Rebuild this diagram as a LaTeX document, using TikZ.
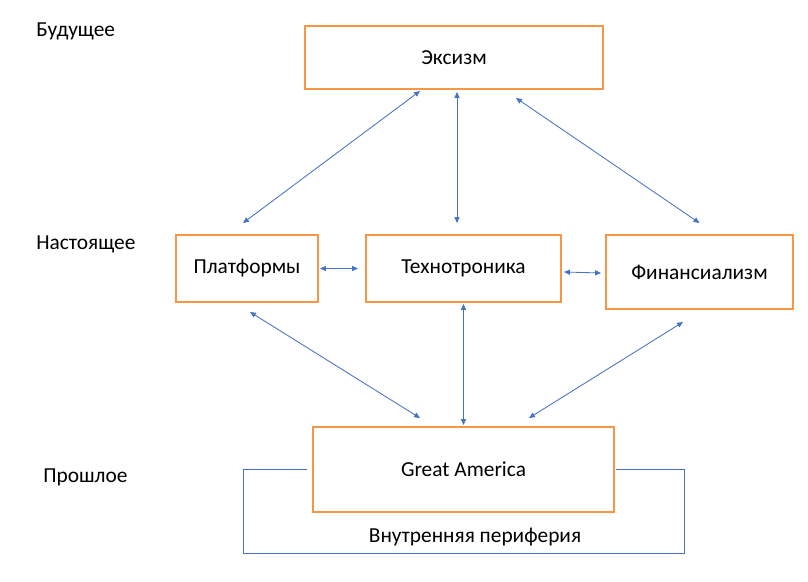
\documentclass[tikz,border=0pt]{standalone}
\usepackage{fontspec}
\setmainfont{Carlito}
\usetikzlibrary{arrows.meta,calc}
\definecolor{boxorange}{HTML}{F79646}
\definecolor{linkblue}{HTML}{4472C4}

\begin{document}
\begin{tikzpicture}[
  x=0.025cm, y=-0.025cm,
  every node/.style={font=\fontsize{15.2}{18}\selectfont},
  era/.style={draw=boxorange, line width=1.4pt, align=center, inner sep=0pt},
  lvl/.style={anchor=west, inner sep=0pt},
  link/.style={{Triangle[length=4.2pt, width=3.6pt]}-{Triangle[length=4.2pt, width=3.6pt]}, linkblue, line width=0.6pt},
  rim/.style={linkblue, line width=0.7pt}
]
\useasboundingbox (0,0) rectangle (808,582);

% time levels
\node[lvl] (fut) at (36,31) {Будущее};
\node[lvl] (now) at (36,244) {Настоящее};
\node[lvl] (past) at (43,477) {Прошлое};

% boxes
\node[era, minimum width=7.45cm, minimum height=1.575cm] (eks) at (454,57.5) {Эксизм};
\node[era, minimum width=3.55cm, minimum height=1.675cm] (plat) at (247,268.5) {Платформы};
\node[era, minimum width=4.875cm, minimum height=1.675cm] (tech) at (463.5,268.5) {Технотроника};
\node[era, minimum width=4.675cm, minimum height=1.85cm] (fin) at (699.5,272) {Финансиализм};
\node[era, minimum width=7.5cm, minimum height=2.125cm] (ga) at (463.5,469.5) {Great America};

% links
\draw[link] ($(eks.south)+(-34,1)$) -- ($(plat.north)+(-4,-11)$);
\draw[link] ($(eks.south)+(3,2)$) -- ($(tech.north)+(-6.5,-11)$);
\draw[link] ($(eks.south)+(62,8)$) -- ($(fin.north)+(0,-11)$);
\draw[link] ($(plat.east)+(1,0)$) -- ($(tech.west)+(-7,0)$);
\draw[link] ($(tech.east)+(2,3.5)$) -- ($(fin.west)+(-4,1)$);
\draw[link] ($(plat.south)+(3,9)$) -- ($(ga.north)+(-43.5,-8)$);
\draw[link] ($(tech.south)+(0,1)$) -- ($(ga.north)+(0,-1)$);
\draw[link] ($(fin.south)+(-16.5,12)$) -- ($(ga.north)+(65.5,-8)$);

% inner periphery
\coordinate (bl) at (243,553);
\coordinate (br) at (684,553);
\draw[rim] ($(ga.west)+(-5,0)$) -| (bl) -- (br) |- ($(ga.east)+(1,0)$);
\node (peri) at (475,537) {Внутренняя периферия};

\end{tikzpicture}
\end{document}
